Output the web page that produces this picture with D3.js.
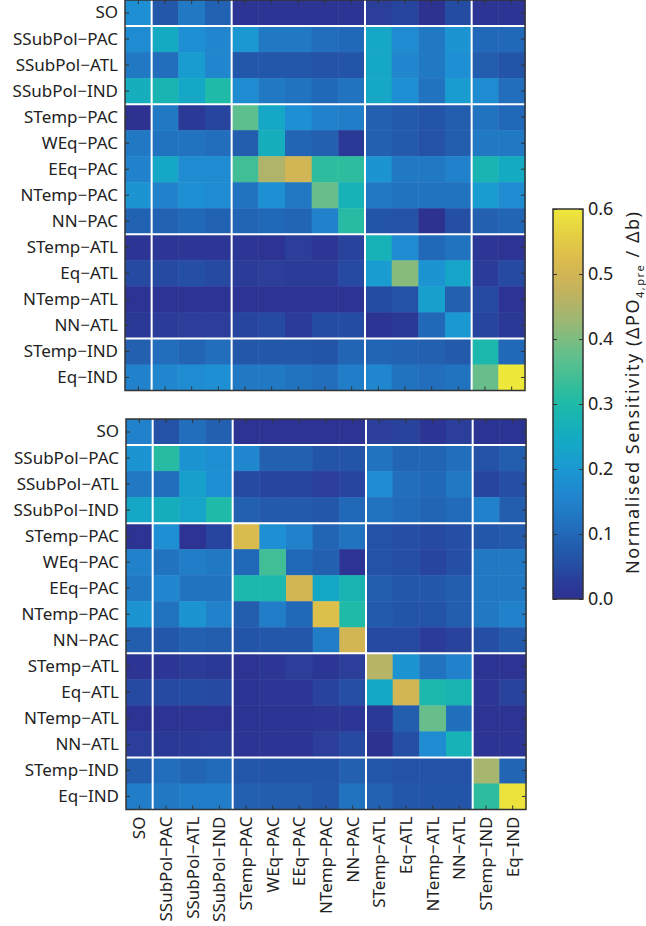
<!DOCTYPE html>
<html>
<head>
<meta charset="utf-8">
<script src="https://cdn.jsdelivr.net/npm/d3@7"></script>
<style>
	body { margin: 0; background: #fff; }
	text { font-family: "Noto Sans", sans-serif; fill: #222; }
</style>
</head>
<body>
<svg id="chart" width="646" height="926"></svg>
<script>

//DATA

var regions = ["SO", "SSubPol\u2212PAC", "SSubPol\u2212ATL", "SSubPol\u2212IND",
	"STemp\u2212PAC", "WEq\u2212PAC", "EEq\u2212PAC", "NTemp\u2212PAC", "NN\u2212PAC",
	"STemp\u2212ATL", "Eq\u2212ATL", "NTemp\u2212ATL", "NN\u2212ATL",
	"STemp\u2212IND", "Eq\u2212IND"];

//basin group boundaries (index of first region in each new group)
var groupBreaks = [1, 4, 9, 13];

var topValues = [
	[0.18, 0.07, 0.13, 0.09, 0.01, 0.01, 0.01, 0.01, 0.01, 0.03, 0.04, 0.0, 0.05, 0.01, 0.01],
	[0.17, 0.25, 0.18, 0.16, 0.20, 0.13, 0.13, 0.11, 0.10, 0.24, 0.17, 0.13, 0.19, 0.10, 0.10],
	[0.13, 0.11, 0.21, 0.16, 0.07, 0.07, 0.07, 0.06, 0.065, 0.24, 0.16, 0.13, 0.18, 0.08, 0.065],
	[0.26, 0.28, 0.24, 0.30, 0.17, 0.13, 0.12, 0.10, 0.12, 0.24, 0.18, 0.12, 0.21, 0.17, 0.11],
	[0.0, 0.13, 0.02, 0.04, 0.37, 0.24, 0.18, 0.15, 0.14, 0.085, 0.075, 0.065, 0.08, 0.12, 0.10],
	[0.13, 0.12, 0.12, 0.11, 0.08, 0.26, 0.095, 0.085, 0.02, 0.085, 0.075, 0.06, 0.08, 0.13, 0.13],
	[0.15, 0.24, 0.17, 0.17, 0.34, 0.45, 0.50, 0.32, 0.32, 0.19, 0.13, 0.13, 0.15, 0.28, 0.25],
	[0.19, 0.15, 0.18, 0.17, 0.12, 0.18, 0.13, 0.38, 0.27, 0.13, 0.12, 0.12, 0.12, 0.21, 0.17],
	[0.09, 0.09, 0.10, 0.09, 0.095, 0.10, 0.095, 0.15, 0.31, 0.065, 0.06, 0.0, 0.055, 0.085, 0.095],
	[0.01, 0.015, 0.015, 0.015, 0.015, 0.005, 0.03, 0.015, 0.035, 0.27, 0.17, 0.10, 0.12, 0.015, 0.005],
	[0.045, 0.045, 0.055, 0.045, 0.025, 0.03, 0.025, 0.025, 0.045, 0.21, 0.41, 0.19, 0.23, 0.025, 0.045],
	[0.005, 0.005, 0.005, 0.005, 0.005, 0.005, 0.005, 0.005, 0.005, 0.05, 0.06, 0.22, 0.085, 0.045, 0.005],
	[0.02, 0.025, 0.03, 0.03, 0.04, 0.045, 0.025, 0.05, 0.05, 0.01, 0.02, 0.10, 0.20, 0.04, 0.02],
	[0.085, 0.11, 0.095, 0.11, 0.07, 0.07, 0.07, 0.065, 0.095, 0.095, 0.09, 0.085, 0.075, 0.29, 0.10],
	[0.15, 0.16, 0.17, 0.18, 0.13, 0.13, 0.12, 0.11, 0.14, 0.16, 0.12, 0.11, 0.12, 0.38, 0.60]
];

var bottomValues = [
	[0.15, 0.06, 0.11, 0.085, 0.005, 0.005, 0.005, 0.005, 0.005, 0.03, 0.035, 0.01, 0.03, 0.008, 0.008],
	[0.19, 0.31, 0.19, 0.18, 0.16, 0.085, 0.085, 0.065, 0.065, 0.12, 0.095, 0.095, 0.11, 0.06, 0.08],
	[0.13, 0.11, 0.22, 0.18, 0.045, 0.04, 0.04, 0.03, 0.04, 0.17, 0.11, 0.10, 0.13, 0.04, 0.055],
	[0.24, 0.26, 0.23, 0.30, 0.085, 0.075, 0.075, 0.07, 0.10, 0.12, 0.105, 0.095, 0.105, 0.15, 0.08],
	[0.005, 0.18, 0.005, 0.04, 0.52, 0.18, 0.15, 0.095, 0.12, 0.06, 0.055, 0.045, 0.055, 0.07, 0.075],
	[0.15, 0.12, 0.14, 0.13, 0.10, 0.34, 0.10, 0.085, 0.005, 0.06, 0.055, 0.04, 0.055, 0.13, 0.13],
	[0.13, 0.16, 0.12, 0.12, 0.29, 0.29, 0.50, 0.24, 0.28, 0.08, 0.07, 0.07, 0.08, 0.13, 0.13],
	[0.19, 0.12, 0.19, 0.15, 0.08, 0.14, 0.10, 0.53, 0.30, 0.075, 0.065, 0.065, 0.08, 0.13, 0.15],
	[0.08, 0.07, 0.085, 0.08, 0.065, 0.07, 0.07, 0.14, 0.50, 0.045, 0.045, 0.025, 0.035, 0.055, 0.075],
	[0.01, 0.015, 0.025, 0.02, 0.005, 0.015, 0.03, 0.015, 0.03, 0.46, 0.19, 0.12, 0.15, 0.008, 0.005],
	[0.045, 0.045, 0.05, 0.045, 0.008, 0.015, 0.015, 0.035, 0.055, 0.24, 0.50, 0.29, 0.28, 0.015, 0.035],
	[0.005, 0.005, 0.005, 0.005, 0.008, 0.008, 0.008, 0.012, 0.012, 0.02, 0.08, 0.38, 0.115, 0.005, 0.005],
	[0.03, 0.02, 0.022, 0.025, 0.01, 0.01, 0.01, 0.03, 0.045, 0.003, 0.055, 0.17, 0.27, 0.01, 0.01],
	[0.08, 0.11, 0.095, 0.105, 0.07, 0.065, 0.065, 0.065, 0.085, 0.07, 0.06, 0.06, 0.06, 0.44, 0.095],
	[0.14, 0.13, 0.14, 0.14, 0.085, 0.08, 0.08, 0.07, 0.12, 0.09, 0.07, 0.065, 0.065, 0.32, 0.59]
];

var colorbarTicks = [0, 0.1, 0.2, 0.3, 0.4, 0.5, 0.6];

//parula-like colour stops, as printed
var colorStops = ["#2d3190", "#2b3b98", "#254ca3", "#235aab", "#2268b8", "#2176c1", "#2182cb",
	"#1e8dd2", "#1b98d2", "#17a2ca", "#14abc2", "#18b3b5", "#1fbaa8", "#32bd9c", "#4bbf92",
	"#62bf8d", "#7dbc80", "#98b875", "#afb46a", "#c4b35d", "#d2b555", "#dcbd4c", "#e2c945",
	"#e8d840", "#ede83a"];

//SCALES

var color = d3.scaleLinear()
	.domain(colorStops.map((c, i) => 0.6 * i / (colorStops.length - 1)))
	.range(colorStops)
	.clamp(true);

var svg = d3.select("#chart");

function renderHeatmap(values, x0, y0, width, height, showXLabels) {

	var g = svg.append("g")
		.attr("transform", "translate(" + x0 + "," + y0 + ")");

	var xScale = d3.scaleBand().domain(regions).range([0, width]);
	var yScale = d3.scaleBand().domain(regions).range([0, height]);

	var cells = [];
	values.forEach((row, i) => {
		row.forEach((v, j) => cells.push({ row: regions[i], col: regions[j], value: v }));
	});

	g.selectAll("rect.cell")
		.data(cells)
		.enter()
		.append("rect")
		.attr("class", "cell")
		.attr("x", d => xScale(d.col))
		.attr("y", d => yScale(d.row))
		.attr("width", xScale.bandwidth() + 0.5)
		.attr("height", yScale.bandwidth() + 0.5)
		.attr("fill", d => color(d.value));

	//white separators between basins
	g.selectAll("line.vsep")
		.data(groupBreaks)
		.enter()
		.append("line")
		.attr("x1", d => xScale(regions[d]))
		.attr("x2", d => xScale(regions[d]))
		.attr("y1", 0)
		.attr("y2", height)
		.attr("stroke", "#fff")
		.attr("stroke-width", 2);

	g.selectAll("line.hsep")
		.data(groupBreaks)
		.enter()
		.append("line")
		.attr("y1", d => yScale(regions[d]))
		.attr("y2", d => yScale(regions[d]))
		.attr("x1", 0)
		.attr("x2", width)
		.attr("stroke", "#fff")
		.attr("stroke-width", 2);

	//axes, ticks pointing inward
	var yAxis = d3.axisLeft(yScale).tickSizeInner(-4).tickSizeOuter(0).tickPadding(7);
	var yAxisG = g.append("g").call(yAxis);
	yAxisG.select(".domain").remove();
	yAxisG.selectAll("text").attr("font-size", 17).attr("font-family", "Noto Sans").attr("fill", "#222");
	yAxisG.selectAll("line").attr("stroke", "#333");

	var rAxis = g.append("g")
		.attr("transform", "translate(" + width + ",0)")
		.call(d3.axisRight(yScale).tickSizeInner(-4).tickSizeOuter(0).tickFormat(""));
	rAxis.select(".domain").remove();
	rAxis.selectAll("line").attr("stroke", "#333");

	var tAxis = g.append("g")
		.call(d3.axisTop(xScale).tickSizeInner(-4).tickSizeOuter(0).tickFormat(""));
	tAxis.select(".domain").remove();
	tAxis.selectAll("line").attr("stroke", "#333");

	var xAxis = d3.axisBottom(xScale).tickSizeInner(-4).tickSizeOuter(0);
	if (!showXLabels) {
		xAxis.tickFormat("");
	}
	var xAxisG = g.append("g")
		.attr("transform", "translate(0," + height + ")")
		.call(xAxis);
	xAxisG.select(".domain").remove();
	xAxisG.selectAll("line").attr("stroke", "#333");
	xAxisG.selectAll("text")
		.attr("font-size", 17)
		.attr("font-family", "Noto Sans")
		.attr("fill", "#222")
		.attr("transform", "rotate(-90)")
		.attr("text-anchor", "end")
		.attr("x", -7)
		.attr("y", 0)
		.attr("dy", "0.36em");

	//frame
	g.append("rect")
		.attr("width", width)
		.attr("height", height)
		.attr("fill", "none")
		.attr("stroke", "#333")
		.attr("stroke-width", 1.5);
}

renderHeatmap(topValues, 125, 0, 400, 390.5, false);
renderHeatmap(bottomValues, 126, 419, 400, 390.5, true);

//COLORBAR

var cbX = 553, cbY = 209, cbW = 30, cbH = 390;

var cScale = d3.scaleLinear().domain([0, 0.6]).range([cbH, 0]);

var grad = svg.append("defs")
	.append("linearGradient")
	.attr("id", "cbgrad")
	.attr("x1", 0).attr("y1", 1).attr("x2", 0).attr("y2", 0);

grad.selectAll("stop")
	.data(colorStops)
	.enter()
	.append("stop")
	.attr("offset", (d, i) => i / (colorStops.length - 1))
	.attr("stop-color", d => d);

var cb = svg.append("g").attr("transform", "translate(" + cbX + "," + cbY + ")");

cb.append("rect")
	.attr("width", cbW)
	.attr("height", cbH)
	.attr("fill", "url(#cbgrad)");

var cbAxis = cb.append("g")
	.attr("transform", "translate(" + cbW + ",0)")
	.call(d3.axisRight(cScale).tickValues(colorbarTicks).tickFormat(d3.format(".1f"))
		.tickSizeInner(-4).tickSizeOuter(0).tickPadding(5));
cbAxis.select(".domain").remove();
cbAxis.selectAll("line").attr("stroke", "#333");
cbAxis.selectAll("text").attr("font-size", 18).attr("font-family", "Noto Sans").attr("fill", "#222");

var cbLeft = cb.append("g")
	.call(d3.axisLeft(cScale).tickValues(colorbarTicks).tickFormat("")
		.tickSizeInner(-4).tickSizeOuter(0));
cbLeft.select(".domain").remove();
cbLeft.selectAll("line").attr("stroke", "#333");

cb.append("rect")
	.attr("width", cbW)
	.attr("height", cbH)
	.attr("fill", "none")
	.attr("stroke", "#333")
	.attr("stroke-width", 1.5);

var cbLabel = svg.append("text")
	.attr("transform", "translate(639,393) rotate(-90)")
	.attr("text-anchor", "middle")
	.attr("font-size", 18)
	.attr("textLength", 362)
	.attr("lengthAdjust", "spacing");

cbLabel.append("tspan").text("Normalised Sensitivity (\u0394PO");
cbLabel.append("tspan").attr("font-size", 11).attr("dy", 5).text("4,pre");
cbLabel.append("tspan").attr("dy", -5).text(" / \u0394b)");

</script>
</body>
</html>
